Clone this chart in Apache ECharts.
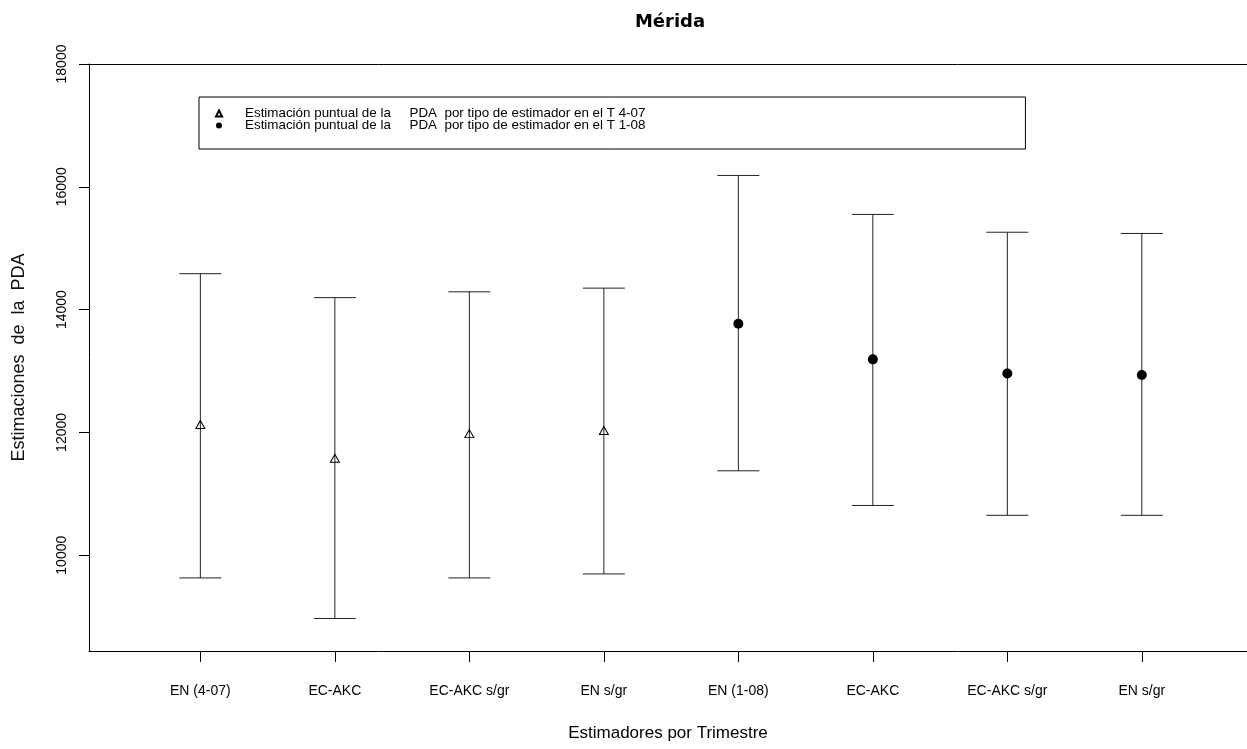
<!DOCTYPE html>
<html>
<head>
<meta charset="utf-8">
<script src="https://cdn.jsdelivr.net/npm/echarts@6/dist/echarts.min.js"></script>
<style>
html,body{margin:0;padding:0;background:#fff;overflow:hidden;}
#chart{width:1247px;height:749px;}
</style>
</head>
<body>
<div id="chart"></div>
<script>
// ---- data ----
var categories = ['EN (4-07)', 'EC-AKC', 'EC-AKC s/gr', 'EN s/gr', 'EN (1-08)', 'EC-AKC', 'EC-AKC s/gr', 'EN s/gr'];
var estimatesT407 = [12130, 11580, 11980, 12030];
var estimatesT108 = [13770, 13190, 12960, 12935];
var lowerBounds = [9630, 8970, 9630, 9695, 11375, 10810, 10650, 10650];
var upperBounds = [14585, 14195, 14290, 14350, 16185, 15550, 15260, 15240];
var yTicks = [10000, 12000, 14000, 16000, 18000];
var legendNames = [
  'Estimación puntual de la     PDA  por tipo de estimador en el T 4-07',
  'Estimación puntual de la     PDA  por tipo de estimador en el T 1-08'
];

var xTicks = categories.map(function (c, i) { return i + 1; });
var barData = categories.map(function (c, i) { return [i + 1, lowerBounds[i], upperBounds[i]]; });
var pts407 = estimatesT407.map(function (v, i) { return [i + 1, v]; });
var pts108 = estimatesT108.map(function (v, i) { return [i + 1 + estimatesT407.length, v]; });

var FONT = '"Liberation Sans", Arial, sans-serif';
var chart = echarts.init(document.getElementById('chart'), null, {renderer: 'canvas'});

chart.setOption({
  animation: false,
  backgroundColor: '#fff',
  title: {
    text: 'Mérida',
    left: 670,
    top: 13,
    padding: 0,
    textAlign: 'center',
    textStyle: {fontFamily: '"DejaVu Sans", sans-serif', fontWeight: 'bold', fontSize: 18, color: '#000'}
  },
  legend: {
    orient: 'vertical',
    left: 199,
    top: 97,
    data: legendNames,
    selectedMode: false,
    itemGap: -1,
    itemWidth: 6,
    itemHeight: 6,
    padding: [10, 380, 17, 16],
    borderColor: '#000',
    borderWidth: 1,
    textStyle: {fontFamily: FONT, fontSize: 13.4, lineHeight: 12, color: '#000', padding: [0, 0, 0, 18]}
  },
  grid: {
    left: 89, top: 64, bottom: 98, right: 0,
    show: false
  },
  xAxis: [{
    type: 'value',
    min: 0.172,
    max: 8.782,
    name: 'Estimadores por Trimestre',
    nameLocation: 'middle',
    nameGap: 74,
    nameTextStyle: {fontFamily: FONT, fontSize: 17, color: '#000', verticalAlign: 'top'},
    splitLine: {show: false},
    axisLine: {show: true, onZero: false, lineStyle: {color: '#000', width: 1}},
    axisTick: {show: true, length: 11, customValues: xTicks, lineStyle: {color: '#000'}},
    axisLabel: {
      customValues: xTicks,
      margin: 33,
      fontFamily: FONT, fontSize: 14, color: '#000',
      formatter: function (v) { return categories[Math.round(v) - 1]; }
    }
  }, {
    type: 'value',
    position: 'top',
    min: 0.172,
    max: 8.782,
    splitLine: {show: false},
    axisLine: {show: true, onZero: false, lineStyle: {color: '#000', width: 1}},
    axisTick: {show: false},
    axisLabel: {show: false}
  }],
  yAxis: {
    type: 'value',
    min: 8440,
    max: 18000,
    name: 'Estimaciones  de  la  PDA',
    nameLocation: 'middle',
    nameGap: 61,
    nameRotate: 90,
    nameTextStyle: {fontFamily: FONT, fontSize: 18, color: '#111'},
    splitLine: {show: false},
    axisLine: {show: true, onZero: false, lineStyle: {color: '#000', width: 1}},
    axisTick: {show: true, length: 10, customValues: yTicks, lineStyle: {color: '#000'}},
    axisLabel: {
      customValues: yTicks,
      rotate: 90,
      margin: 20,
      fontFamily: FONT, fontSize: 14, color: '#000',
      formatter: function (v) { return String(Math.round(v)); }
    }
  },
  series: [
    {
      type: 'custom',
      name: 'intervalos',
      data: barData,
      encode: {x: 0, y: [1, 2]},
      z: 2,
      renderItem: function (params, api) {
        var x = api.value(0);
        var lo = api.coord([x, api.value(1)]);
        var hi = api.coord([x, api.value(2)]);
        var hw = 21;
        var st = {stroke: '#222', lineWidth: 1};
        return {
          type: 'group',
          children: [
            {type: 'line', shape: {x1: hi[0], y1: hi[1], x2: lo[0], y2: lo[1]}, style: st},
            {type: 'line', shape: {x1: hi[0] - hw, y1: hi[1], x2: hi[0] + hw, y2: hi[1]}, style: st},
            {type: 'line', shape: {x1: lo[0] - hw, y1: lo[1], x2: lo[0] + hw, y2: lo[1]}, style: st}
          ]
        };
      }
    },
    {
      type: 'scatter',
      name: legendNames[0],
      data: pts407,
      symbol: 'triangle',
      symbolSize: [9, 8],
      z: 3,
      itemStyle: {color: 'rgba(0,0,0,0)', borderColor: '#000', borderWidth: 1, opacity: 1}
    },
    {
      type: 'scatter',
      name: legendNames[1],
      data: pts108,
      symbol: 'circle',
      symbolSize: 10,
      z: 3,
      itemStyle: {color: '#000', opacity: 1}
    }
  ]
});
</script>
</body>
</html>
